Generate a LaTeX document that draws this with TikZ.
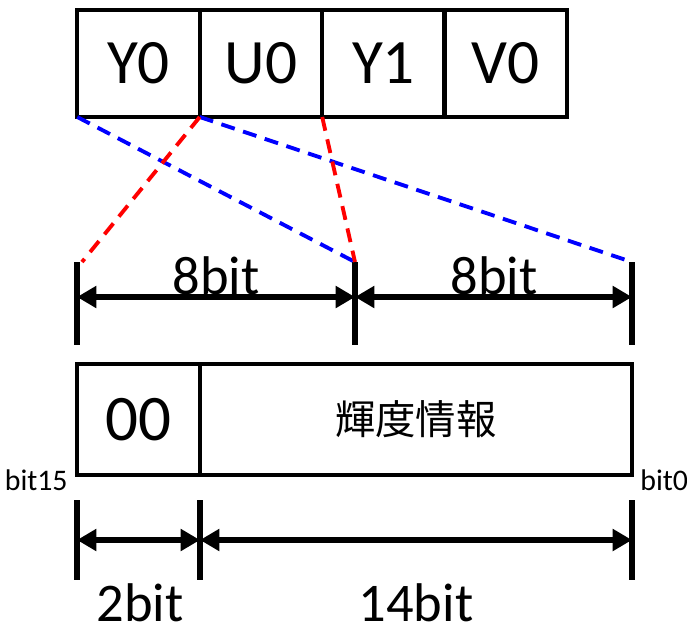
\documentclass[tikz,border=0pt]{standalone}
\usepackage{fontspec}
\setmainfont{Carlito}
\newfontfamily\jpfont{Noto Sans CJK JP}
\usetikzlibrary{arrows.meta, positioning, calc}
\definecolor{GuideBlue}{HTML}{0000FF}
\definecolor{GuideRed}{HTML}{FF0000}

\begin{document}
\begin{tikzpicture}[x=0.02cm, y=-0.02cm,
    cell/.style={rectangle, draw, line width=2.5pt, outer sep=0pt, minimum width=2.45cm, minimum height=2.14cm, font=\fontsize{36}{42}\selectfont},
    field/.style={rectangle, draw, line width=2.5pt, outer sep=0pt, minimum height=2.22cm},
    tick/.style={line width=3.2pt},
    dim/.style={arrows={Triangle[length=11pt, width=12pt]-Triangle[length=11pt, width=12pt]}, line width=3.2pt},
    guide/.style={line width=2.2pt, dash pattern=on 8pt off 5pt},
    dimlbl/.style={font=\fontsize{31}{36}\selectfont, inner sep=0pt},
    bitlbl/.style={font=\fontsize{17}{20}\selectfont, inner sep=0pt}
  ]
  \useasboundingbox (0,0) rectangle (687,633);

  % YUV word
  \node[cell] (y0) at (138.5,63.5) {Y0};
  \node[cell, right=0pt of y0] (u0) {U0};
  \node[cell, right=0pt of u0] (y1) {Y1};
  \node[cell, right=0pt of y1] (v0) {V0};

  % 16bit pixel
  \node[field, minimum width=2.46cm, font=\fontsize{37}{42}\selectfont] (hi) at (138.5,419.5) {00};
  \node[field, minimum width=8.64cm, right=0pt of hi, font=\jpfont\fontsize{23}{28}\selectfont] (lum) {輝度情報};
  \node[bitlbl, anchor=east] (msb) at (68,480) {bit15};
  \node[bitlbl, anchor=west] (lsb) at (640,480) {bit0};

  % ticks of the 8bit/8bit split
  \coordinate (a0) at (77,262);
  \coordinate (a1) at (355,262);
  \coordinate (a2) at (632,262);
  \draw[tick] (a0) -- ++(0,83);
  \draw[tick] (a1) -- ++(0,83);
  \draw[tick] (a2) -- ++(0,83);
  \draw[dim] ($(a0)+(0,35)$) -- ($(a1)+(0,35)$);
  \draw[dim] ($(a1)+(0,35)$) -- ($(a2)+(0,35)$);
  \node[dimlbl] (hb) at (216,276) {8bit};
  \node[dimlbl] (lb) at (494,276) {8bit};

  % ticks of the 2bit/14bit split
  \coordinate (b0) at (77,500);
  \coordinate (b1) at (200,500);
  \coordinate (b2) at (632,500);
  \draw[tick] (b0) -- ++(0,80);
  \draw[tick] (b1) -- ++(0,80);
  \draw[tick] (b2) -- ++(0,80);
  \draw[dim] ($(b0)+(0,40)$) -- ($(b1)+(0,40)$);
  \draw[dim] ($(b1)+(0,40)$) -- ($(b2)+(0,40)$);
  \node[dimlbl] (tb) at (140,603) {2bit};
  \node[dimlbl] (fb) at (416,603) {14bit};

  % guides
  \draw[guide, GuideBlue] (y0.south west) -- (a1);
  \draw[guide, GuideBlue] (u0.south west) -- (a2);
  \draw[guide, GuideRed] (u0.south west) -- ($(a0)+(5,0)$);
  \draw[guide, GuideRed] (y1.south west) -- (a1);
\end{tikzpicture}
\end{document}
